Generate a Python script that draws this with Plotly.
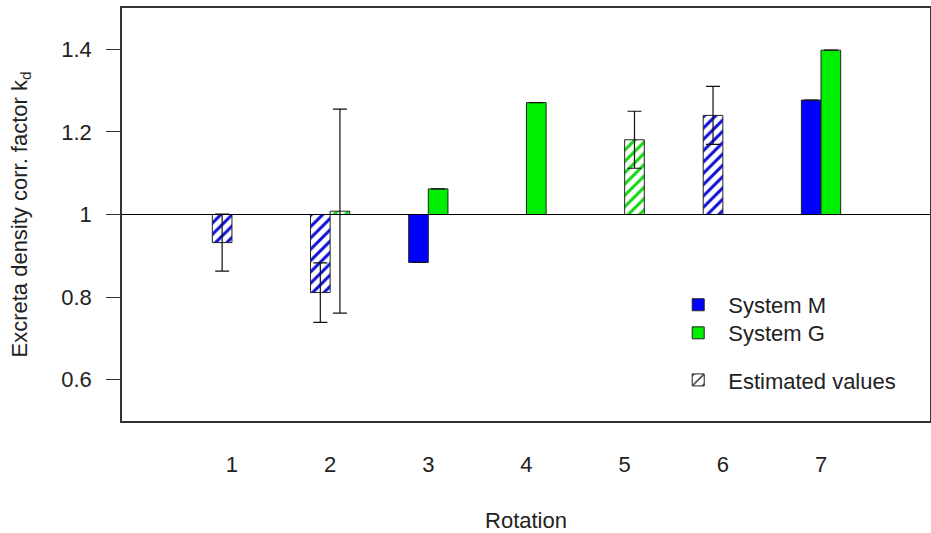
import plotly.graph_objects as go

rotations = [1, 2, 3, 4, 5, 6, 7]
tick_labels = ["1", "2", "3", "4", "5", "6", "7"]

m_vals = [0.932, 0.811, 0.884, None, None, 1.240, 1.277]
g_vals = [None, 1.008, 1.062, 1.271, 1.181, None, 1.398]
m_err = [0.069, 0.072, None, None, None, 0.070, None]
g_err = [None, 0.247, None, None, 0.069, None, None]
m_est = [True, True, False, False, False, True, False]
g_est = [False, True, False, False, True, False, False]

BASE = 1.0
BLUE = "#0000ff"
GREEN = "#00ee00"
EDGE = "#222222"
FONT = "Liberation Sans, Arial, sans-serif"
FS = 22


def rel(vals):
    return [None if v is None else v - BASE for v in vals]


def err(vals):
    return [float("nan") if v is None else v for v in vals]


def patt(flags):
    return ["/" if f else "" for f in flags]


fig = go.Figure()

fig.add_trace(go.Bar(
    x=rotations, y=rel(m_vals), base=BASE, name="System M",
    width=0.2, offset=-0.2, showlegend=False,
    marker=dict(color=BLUE, line=dict(color=EDGE, width=1),
                pattern=dict(shape=patt(m_est), fgcolor="#1010d8", bgcolor="white",
                             size=8, solidity=0.38, fillmode="replace", fgopacity=1)),
    error_y=dict(type="data", array=err(m_err), visible=True,
                 color="#111111", thickness=1.2, width=7),
))
fig.add_trace(go.Bar(
    x=rotations, y=rel(g_vals), base=BASE, name="System G",
    width=0.2, offset=0.0, showlegend=False,
    marker=dict(color=GREEN, line=dict(color=EDGE, width=1),
                pattern=dict(shape=patt(g_est), fgcolor="#10d810", bgcolor="white",
                             size=8, solidity=0.38, fillmode="replace", fgopacity=1)),
    error_y=dict(type="data", array=err(g_err), visible=True,
                 color="#111111", thickness=1.2, width=7),
))

# legend entries
fig.add_trace(go.Bar(x=[None], y=[None], name="System M", legend="legend",
                     marker=dict(color=BLUE, line=dict(color=EDGE, width=1))))
fig.add_trace(go.Bar(x=[None], y=[None], name="System G", legend="legend2",
                     marker=dict(color=GREEN, line=dict(color=EDGE, width=1))))
fig.add_trace(go.Bar(
    x=[None], y=[None], name="Estimated values", legend="legend3",
    marker=dict(color="white", line=dict(color=EDGE, width=1),
                pattern=dict(shape="/", fgcolor=EDGE, bgcolor="white",
                             size=9, solidity=0.2, fillmode="replace")),
))

fig.add_shape(type="line", xref="paper", x0=0, x1=1, yref="y", y0=BASE, y1=BASE,
              line=dict(color="black", width=1.2))

leg_common = dict(x=0.676, xanchor="left", yanchor="middle",
                  bgcolor="rgba(0,0,0,0)", font=dict(size=FS), itemwidth=50)

fig.update_layout(
    width=931, height=533, autosize=False,
    margin=dict(l=122, r=1, t=8, b=112),
    paper_bgcolor="white", plot_bgcolor="white",
    font=dict(family=FONT, size=FS, color="#222222"),
    barmode="overlay",
    showlegend=True,
    legend=dict(y=0.281, **leg_common),
    legend2=dict(y=0.213, **leg_common),
    legend3=dict(y=0.099, **leg_common),
    xaxis=dict(range=[-0.12, 8.11], tickmode="array", tickvals=rotations,
               ticktext=tick_labels, ticks="", showgrid=False, zeroline=False,
               showline=True, linecolor="#333333", linewidth=1.5, mirror=True,
               ticklabelstandoff=23, automargin=False,
               title=dict(text="Rotation", standoff=43, font=dict(size=FS))),
    yaxis=dict(range=[0.5, 1.5], tickvals=[0.6, 0.8, 1.0, 1.2, 1.4],
               ticktext=["0.6", "0.8", "1", "1.2", "1.4"],
               ticks="outside", ticklen=14, tickcolor="#333333",
               showgrid=False, zeroline=False,
               showline=True, linecolor="#333333", linewidth=1.5, mirror=True,
               ticklabelstandoff=10, automargin=False,
               title=dict(text="Excreta density corr. factor k<sub>d</sub>",
                          standoff=28, font=dict(size=FS))),
)

fig.write_html(
    "out.html",
    config={"responsive": False, "displayModeBar": False},
    post_script="document.body.style.margin='0';document.body.style.padding='0';"
                "document.body.style.overflow='hidden';",
)
